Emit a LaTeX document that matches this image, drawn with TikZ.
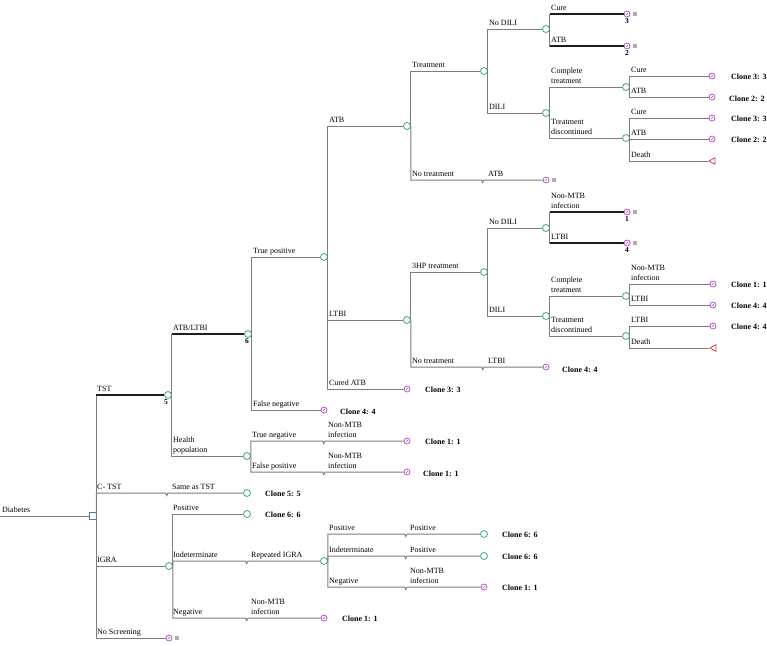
\documentclass[tikz,border=0pt]{standalone}
\usepackage{fontspec}
\setmainfont{Liberation Serif}
\usetikzlibrary{shapes.geometric,calc}
\definecolor{lineg}{RGB}{125,125,125}
\definecolor{darkl}{RGB}{30,30,30}
\definecolor{chg}{RGB}{70,165,125}
\definecolor{tpur}{RGB}{185,85,205}
\definecolor{dred}{RGB}{225,60,80}
\definecolor{dblue}{RGB}{80,120,195}
\definecolor{gsqc}{RGB}{175,175,175}
\newcommand\two[2]{\begin{tabular}[b]{@{}l@{}}#1\\#2\end{tabular}}
\newcommand\cnx[2]{\draw[conn] (#1.east) |- (#2.west);}
\newcommand\hcnx[2]{\draw[conn] (#1.east) |- (#2.west); \draw[hot] (#1.east |- #2.west) -- (#2.west);}
\newcommand\wcnx[3]{\draw[conn] let \p1=(#2.west) in (#1.east) |- ({(#3-2.5)*1pt},\y1) -- ++(1.25,2.5) -- ++(1.25,-2.5) -- (#2.west);}
\begin{document}
\begin{tikzpicture}[x=1pt,y=-1pt,
 conn/.style={draw=lineg,line width=1pt},
 hot/.style={draw=darkl,line width=1.2pt},
 chance/.style={circle,draw=chg,line width=0.8pt,fill=white,minimum size=7pt,inner sep=0pt},
 term/.style={circle,draw=tpur,line width=0.8pt,fill=white,minimum size=6pt,inner sep=0pt,
   path picture={\draw[tpur,line width=0.6pt] (path picture bounding box.center) -- ++(-1.5pt,0pt) (path picture bounding box.center) -- ++(0pt,1.5pt);}},
 death/.style={isosceles triangle,shape border rotate=180,draw=dred,line width=0.8pt,fill=white,isosceles triangle stretches,minimum height=6pt,minimum width=6.5pt,inner sep=0pt},
 dec/.style={rectangle,draw=dblue,line width=0.8pt,fill=white,minimum size=7pt,inner sep=0pt},
 gsq/.style={rectangle,fill=gsqc,minimum size=3.5pt,inner sep=0pt},
 lab/.style={anchor=base west,inner sep=0pt,font=\fontsize{8}{9.5}\selectfont},
 clone/.style={anchor=west,inner sep=0pt,font=\fontsize{8}{9.5}\selectfont\bfseries},
 num/.style={anchor=north,inner sep=0pt,font=\fontsize{7.5}{9}\selectfont\bfseries},
]
\useasboundingbox (0,0) rectangle (767,645);

% ---------- root ----------
\coordinate (start) at (0,516);
\node[dec] (D) at (92.5,516) {};
\draw[conn] (start) -- (D.west);
\node[lab] (lDia) at (2,512) {Diabetes};

% ---------- level 1 ----------
\node[chance] (C5) at (168,395) {};
\node[num] (n5) at (166,399.5) {5};
\node[chance] (CC) at (247,493) {};
\node[clone] (kCC) at (265,494) {Clone 5: 5};
\node[chance] (CI) at (169,566) {};
\node[term] (TNS) at (169,638) {};
\node[gsq] (gNS) at (177,638) {};
\hcnx{D}{C5}
\wcnx{D}{CC}{168}
\cnx{D}{CI}
\cnx{D}{TNS}
\node[lab] (lTST) at (97,391) {TST};
\node[lab] (lCT) at (97,489) {C- TST};
\node[lab] (lSame) at (172,489) {Same as TST};
\node[lab] (lIG) at (97,562) {IGRA};
\node[lab] (lNS) at (97,634) {No Screening};

% ---------- TST ----------
\node[chance] (C6) at (248,334) {};
\node[num] (n6) at (247,338.5) {6};
\node[chance] (CH) at (247,456) {};
\hcnx{C5}{C6}
\cnx{C5}{CH}
\node[lab] (lAL) at (173,330) {ATB/LTBI};
\node[lab] (lHP) at (173,452) {\two{Health}{population}};

% True positive / False negative
\node[chance] (CTP) at (324,257) {};
\node[term] (TFN) at (324,410) {};
\node[clone] (kFN) at (340,412) {Clone 4: 4};
\cnx{C6}{CTP}
\cnx{C6}{TFN}
\node[lab] (lTP) at (253,253) {True positive};
\node[lab] (lFN) at (253,406) {False negative};

% ATB / LTBI / Cured ATB
\node[chance] (CA) at (407,126) {};
\node[chance] (CL) at (407,320) {};
\node[term] (TCA) at (407,389) {};
\node[clone] (kCA) at (425,390) {Clone 3: 3};
\cnx{CTP}{CA}
\cnx{CTP}{CL}
\cnx{CTP}{TCA}
\node[lab] (lATB) at (329,122) {ATB};
\node[lab] (lLT) at (329,316) {LTBI};
\node[lab] (lCured) at (329,385) {Cured ATB};

% ATB branch
\node[chance] (CAT) at (484,71) {};
\node[term] (TANT) at (546,180) {};
\node[gsq] (gANT) at (554,180) {};
\cnx{CA}{CAT}
\wcnx{CA}{TANT}{484}
\node[lab] (lTr) at (412,67) {Treatment};
\node[lab] (lNT1) at (412,176) {No treatment};
\node[lab] (lNT1b) at (488,176) {ATB};

\node[chance] (CAN) at (546,29) {};
\node[chance] (CAD) at (546,113) {};
\cnx{CAT}{CAN}
\cnx{CAT}{CAD}
\node[lab] (lND1) at (489,25) {No DILI};
\node[lab] (lD1) at (489,109) {DILI};

\node[term] (TA1) at (627,14) {};
\node[term] (TA2) at (627,46) {};
\node[num] (nA1) at (627,18.5) {3};
\node[num] (nA2) at (627,50.5) {2};
\node[gsq] (gA1) at (635,14) {};
\node[gsq] (gA2) at (635,46) {};
\hcnx{CAN}{TA1}
\hcnx{CAN}{TA2}
\node[lab] (lCu1) at (551,10) {Cure};
\node[lab] (lAt1) at (551,42) {ATB};

\node[chance] (CADC) at (626,87) {};
\node[chance] (CADD) at (626,138) {};
\cnx{CAD}{CADC}
\cnx{CAD}{CADD}
\node[lab] (lCT1) at (551,83) {\two{Complete}{treatment}};
\node[lab] (lTD1) at (551,134) {\two{Treatment}{discontinued}};

\node[term] (TB1) at (712,76) {};
\node[term] (TB2) at (712,97) {};
\node[term] (TB3) at (712,118) {};
\node[term] (TB4) at (712,139) {};
\node[death] (TB5) at (713,161) {};
\cnx{CADC}{TB1}
\cnx{CADC}{TB2}
\cnx{CADD}{TB3}
\cnx{CADD}{TB4}
\cnx{CADD}{TB5}
\node[lab] (lCu2) at (631,72) {Cure};
\node[lab] (lAt2) at (631,93) {ATB};
\node[lab] (lCu3) at (631,114) {Cure};
\node[lab] (lAt3) at (631,135) {ATB};
\node[lab] (lDe1) at (631,157) {Death};
\node[clone] (kB1) at (731,77) {Clone 3: 3};
\node[clone] (kB2) at (729,99) {Clone 2: 2};
\node[clone] (kB3) at (731,119) {Clone 3: 3};
\node[clone] (kB4) at (731,140) {Clone 2: 2};

% LTBI branch
\node[chance] (CLT) at (484,272) {};
\node[term] (TLNT) at (546,367) {};
\node[clone] (kLNT) at (562,370) {Clone 4: 4};
\cnx{CL}{CLT}
\wcnx{CL}{TLNT}{484}
\node[lab] (l3HP) at (412,268) {3HP treatment};
\node[lab] (lNT2) at (412,363) {No treatment};
\node[lab] (lNT2b) at (488,363) {LTBI};

\node[chance] (CLN) at (546,228) {};
\node[chance] (CLD) at (546,316) {};
\cnx{CLT}{CLN}
\cnx{CLT}{CLD}
\node[lab] (lND2) at (489,224) {No DILI};
\node[lab] (lD2) at (489,312) {DILI};

\node[term] (TL1) at (627,212) {};
\node[term] (TL2) at (627,243) {};
\node[num] (nL1) at (627,216.5) {1};
\node[num] (nL2) at (627,247.5) {4};
\node[gsq] (gL1) at (635,212) {};
\node[gsq] (gL2) at (635,243) {};
\hcnx{CLN}{TL1}
\hcnx{CLN}{TL2}
\node[lab] (lNM1) at (551,208) {\two{Non-MTB}{infection}};
\node[lab] (lLt1) at (551,239) {LTBI};

\node[chance] (CLDC) at (626,296) {};
\node[chance] (CLDD) at (626,336) {};
\cnx{CLD}{CLDC}
\cnx{CLD}{CLDD}
\node[lab] (lCT2) at (551,292) {\two{Complete}{treatment}};
\node[lab] (lTD2) at (551,332) {\two{Treatment}{discontinued}};

\node[term] (TM1) at (713,284) {};
\node[term] (TM2) at (713,305) {};
\node[term] (TM3) at (713,326) {};
\node[death] (TM4) at (714,348) {};
\cnx{CLDC}{TM1}
\cnx{CLDC}{TM2}
\cnx{CLDD}{TM3}
\cnx{CLDD}{TM4}
\node[lab] (lNM2) at (631,280) {\two{Non-MTB}{infection}};
\node[lab] (lLt2) at (631,301) {LTBI};
\node[lab] (lLt3) at (631,322) {LTBI};
\node[lab] (lDe2) at (631,344) {Death};
\node[clone] (kM1) at (731,285) {Clone 1: 1};
\node[clone] (kM2) at (731,306) {Clone 4: 4};
\node[clone] (kM3) at (731,327) {Clone 4: 4};

% Health population
\node[term] (TTN) at (407,441) {};
\node[term] (TFP) at (407,472) {};
\wcnx{CH}{TTN}{325}
\wcnx{CH}{TFP}{325}
\node[lab] (lTN) at (252,437) {True negative};
\node[lab] (lFP) at (252,468) {False positive};
\node[lab] (lNM3) at (328,437) {\two{Non-MTB}{infection}};
\node[lab] (lNM4) at (328,468) {\two{Non-MTB}{infection}};
\node[clone] (kTN) at (425,442) {Clone 1: 1};
\node[clone] (kFP) at (423,474) {Clone 1: 1};

% ---------- IGRA ----------
\node[chance] (CP) at (247,514) {};
\node[clone] (kCP) at (265,515) {Clone 6: 6};
\node[chance] (CR) at (324,561) {};
\node[term] (TIN) at (324,618) {};
\node[clone] (kIN) at (342,619) {Clone 1: 1};
\cnx{CI}{CP}
\wcnx{CI}{CR}{248}
\wcnx{CI}{TIN}{248}
\node[lab] (lPo) at (173,510) {Positive};
\node[lab] (lIn) at (173,557) {Indeterminate};
\node[lab] (lRI) at (251,557) {Repeated IGRA};
\node[lab] (lNe) at (173,614) {Negative};
\node[lab] (lNM5) at (251,614) {\two{Non-MTB}{infection}};

\node[chance] (CRP) at (484,534) {};
\node[chance] (CRI) at (484,556) {};
\node[term] (CRN) at (484,587) {};
\wcnx{CR}{CRP}{407}
\wcnx{CR}{CRI}{407}
\wcnx{CR}{CRN}{407}
\node[lab] (lPo2) at (329,530) {Positive};
\node[lab] (lPo3) at (410,530) {Positive};
\node[lab] (lIn2) at (329,552) {Indeterminate};
\node[lab] (lPo4) at (410,552) {Positive};
\node[lab] (lNe2) at (329,583) {Negative};
\node[lab] (lNM6) at (410,583) {\two{Non-MTB}{infection}};
\node[clone] (kRP) at (502,535) {Clone 6: 6};
\node[clone] (kRI) at (502,557) {Clone 6: 6};
\node[clone] (kRN) at (502,588) {Clone 1: 1};
\end{tikzpicture}
\end{document}
